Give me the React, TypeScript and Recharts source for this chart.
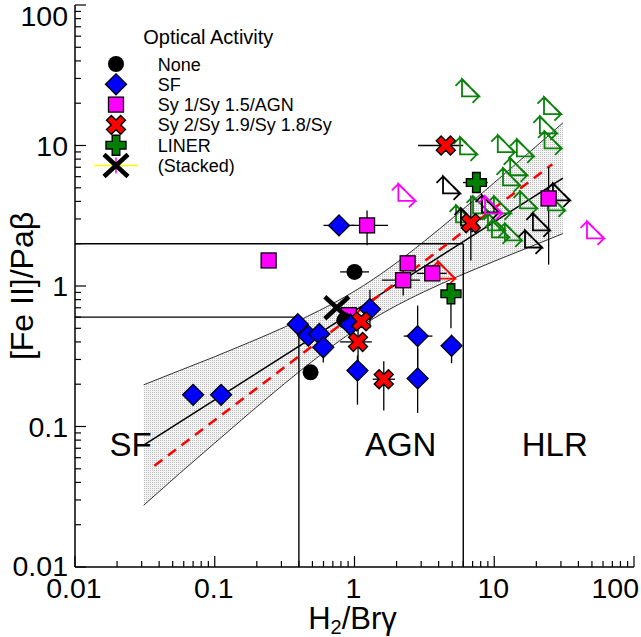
import React from 'react';
import {
  ComposedChart, Scatter, Line, Area, XAxis, YAxis, ReferenceLine, ErrorBar, Label, Legend,
} from 'recharts';

const FONT = '"Liberation Sans", Arial, Helvetica, sans-serif';

type Pt = { x: number; y: number; xe?: [number, number]; ye?: [number, number] };

// log axes: decades plus the minor steps in between
const decadeTicks = [0.01, 0.1, 1, 10, 100];
const minorSteps = [1, 2, 3, 4, 5, 6, 7, 8, 9];
const logTicks = decadeTicks.flatMap((d) => (d === 100 ? [d] : minorSteps.map((m) => +(d * m).toPrecision(3))));

// points, xe / ye = ends of the error bars
const nonePoints: Pt[] = [
  { x: 1.0, y: 1.26, xe: [0.79, 1.27] },
  { x: 0.845, y: 0.57 },
  { x: 0.485, y: 0.243 },
];

const sfPoints: Pt[] = [
  { x: 0.07, y: 0.168 },
  { x: 0.111, y: 0.168 },
  { x: 0.775, y: 2.7, xe: [0.6, 1.0] },
  { x: 0.393, y: 0.535 },
  { x: 0.467, y: 0.443 },
  { x: 0.56, y: 0.456 },
  { x: 0.598, y: 0.366, ye: [0.285, 0.4] },
  { x: 0.935, y: 0.53 },
  { x: 1.29, y: 0.685, ye: [0.5, 0.94] },
  { x: 1.05, y: 0.25, ye: [0.143, 0.32] },
  { x: 2.83, y: 0.44, xe: [2.25, 3.61], ye: [0.223, 0.726] },
  { x: 2.83, y: 0.22, ye: [0.125, 0.358] },
  { x: 4.95, y: 0.375, ye: [0.282, 0.451] },
];

const sy1Points: Pt[] = [
  { x: 0.243, y: 1.52 },
  { x: 1.23, y: 2.7, xe: [0.95, 1.74], ye: [1.95, 3.45] },
  { x: 2.4, y: 1.45 },
  { x: 2.23, y: 1.1, xe: [1.57, 2.94], ye: [0.855, 1.36] },
  { x: 3.6, y: 1.23, xe: [2.79, 4.57] },
  { x: 0.91, y: 0.62 },
  { x: 24.5, y: 4.2, ye: [1.42, 7.0] },
];

const sy2Points: Pt[] = [
  { x: 4.5, y: 10, xe: [2.85, 6.0] },
  { x: 6.8, y: 2.8, ye: [1.52, 4.4] },
  { x: 1.12, y: 0.56 },
  { x: 1.06, y: 0.4, xe: [0.79, 1.33], ye: [0.29, 0.57] },
  { x: 1.62, y: 0.217, xe: [1.35, 1.95], ye: [0.13, 0.291] },
];

const linerPoints: Pt[] = [
  { x: 7.45, y: 5.45, xe: [5.97, 8.97] },
  { x: 4.9, y: 0.88, ye: [0.5, 1.05] },
];

const stackedPoints: Pt[] = [{ x: 0.747, y: 0.7 }];

// lower limits (arrows point up and right from the value)
const greenLimits: Pt[] = [
  { x: 5.88, y: 22.4 }, { x: 5.69, y: 8.66 }, { x: 10.6, y: 8.96 }, { x: 14.5, y: 8.38 },
  { x: 22.7, y: 16.7 }, { x: 21.2, y: 12.2 }, { x: 22.9, y: 9.55 }, { x: 13.0, y: 6.14 },
  { x: 11.55, y: 5.21 }, { x: 9.02, y: 2.49 }, { x: 11.9, y: 2.11 }, { x: 5.33, y: 2.84 },
  { x: 9.64, y: 2.22 }, { x: 7.05, y: 3.29 }, { x: 24.2, y: 3.45 }, { x: 9.95, y: 3.29 },
  { x: 15.3, y: 3.57 },
];
const blackLimits: Pt[] = [
  { x: 4.3, y: 4.56 }, { x: 5.78, y: 2.7 }, { x: 8.17, y: 3.34 },
  { x: 18.9, y: 2.49 }, { x: 16.6, y: 1.88 }, { x: 26.3, y: 4.07 },
];
const magentaLimits: Pt[] = [{ x: 2.06, y: 4.03 }, { x: 8.59, y: 3.29 }, { x: 46.1, y: 2.18 }];
const redLimits: Pt[] = [{ x: 3.96, y: 1.13 }];

// fit, its confidence band and the dashed relation
const bandX = [0.031, 0.056, 0.1, 0.178, 0.316, 0.562, 1, 1.78, 3.16, 5.62, 10, 17.8, 31];
const bandLow = [0.0275, 0.0463, 0.0763, 0.125, 0.202, 0.319, 0.482, 0.682, 0.912, 1.18, 1.5, 1.89, 2.36];
const bandHigh = [0.198, 0.25, 0.314, 0.398, 0.51, 0.67, 0.918, 1.345, 2.085, 3.34, 5.44, 8.93, 14.5];
const fitX = [0.031, 31];
const fitY = [0.0738, 5.85];
const dashX = [0.037, 26];
const dashY = [0.0525, 7.35];

// dividing lines between the regions
const hLines = [
  { y: 2, x1: 0.01, x2: 6 },
  { y: 0.6, x1: 0.01, x2: 0.4 },
];
const vLines = [
  { x: 0.4, y1: 0.01, y2: 0.6 },
  { x: 6, y1: 0.01, y2: 2 },
];

const regionNames = ['SF', 'AGN', 'HLR'];
const regionX = [0.025, 2.14, 27.1];
const regionY = 0.0617;

const legendNames = ['None', 'SF', 'Sy 1/Sy 1.5/AGN', 'Sy 2/Sy 1.9/Sy 1.8/Sy', 'LINER', '(Stacked)'];

const withErr = (pts: Pt[]) =>
  pts.map((p) => ({
    x: p.x,
    y: p.y,
    ex: p.xe ? [p.x - p.xe[0], p.xe[1] - p.x] : [0, 0],
    ey: p.ye ? [p.y - p.ye[0], p.ye[1] - p.y] : [0, 0],
  }));

const bandData = bandX.map((x, i) => ({ x, band: [bandLow[i], bandHigh[i]] }));
const fitData = fitX.map((x, i) => ({ x, y: fitY[i] }));
const dashData = dashX.map((x, i) => ({ x, y: dashY[i] }));
const regionData = regionNames.map((name, i) => ({ x: regionX[i], y: regionY, name }));

// ---- marker shapes
const crossPts = (cx: number, cy: number, L: number, t: number, rot: boolean) => {
  const raw = [[-t, -L], [t, -L], [t, -t], [L, -t], [L, t], [t, t], [t, L], [-t, L], [-t, t], [-L, t], [-L, -t], [-t, -t]];
  return raw
    .map(([a, b]) => (rot ? [(a - b) / Math.SQRT2, (a + b) / Math.SQRT2] : [a, b]))
    .map(([a, b]) => `${cx + a},${cy + b}`)
    .join(' ');
};

const Dot = ({ cx, cy }: any) => <circle cx={cx} cy={cy} r={8} fill="#000" />;
const Diamond = ({ cx, cy }: any) => (
  <polygon
    points={`${cx},${cy - 10.5} ${cx + 10.5},${cy} ${cx},${cy + 10.5} ${cx - 10.5},${cy}`}
    fill="#0000ff" stroke="#000" strokeWidth={1.3}
  />
);
const Square = ({ cx, cy }: any) => (
  <rect x={cx - 7.5} y={cy - 7.5} width={15} height={15} fill="#ff00ff" stroke="#000" strokeWidth={1.3} />
);
const RedX = ({ cx, cy }: any) => (
  <polygon points={crossPts(cx, cy, 10, 3.4, true)} fill="#ff0000" stroke="#000" strokeWidth={1.4} />
);
const GreenPlus = ({ cx, cy }: any) => (
  <polygon points={crossPts(cx, cy, 10, 3.8, false)} fill="#007f00" stroke="#000" strokeWidth={1.4} />
);
const StackedX = ({ cx, cy }: any) => (
  <g stroke="#000" strokeWidth={4.5}>
    <line x1={cx - 12} y1={cy - 11} x2={cx + 12} y2={cy + 11} />
    <line x1={cx - 12} y1={cy + 11} x2={cx + 12} y2={cy - 11} />
  </g>
);
const LimitArrow = ({ cx, cy, color }: any) => {
  const L = 17;
  const h = 6.5;
  return (
    <g fill="none" stroke={color} strokeWidth={1.8}>
      <path d={`M${cx},${cy} L${cx},${cy - L} L${cx + L},${cy} Z`} />
      <path d={`M${cx - h},${cy - L + h} L${cx},${cy - L} L${cx + h},${cy - L + h}`} />
      <path d={`M${cx + L - h},${cy - h} L${cx + L},${cy} L${cx + L - h},${cy + h}`} />
    </g>
  );
};

// ---- axis ticks (inward, minor and major)
const isMajor = (v: number) => Math.abs(Math.log10(v) - Math.round(Math.log10(v))) < 1e-6;

const BottomTick = ({ x, y, payload }: any) => {
  const v = payload.value;
  const major = isMajor(v);
  return (
    <g>
      <line x1={x} y1={y} x2={x} y2={y - (major ? 11 : 6)} stroke="#000" strokeWidth={1.2} />
      {major && (
        <text x={v === 100 ? x + 5 : x - 1} y={y + 31} textAnchor={v === 100 ? 'end' : 'middle'}
          fontFamily={FONT} fontSize={28.5} fill="#000">{String(v)}</text>
      )}
    </g>
  );
};
const TopTick = ({ x, y, payload }: any) => (
  <line x1={x} y1={y} x2={x} y2={y + (isMajor(payload.value) ? 11 : 6)} stroke="#000" strokeWidth={1.2} />
);
const LeftTick = ({ x, y, payload }: any) => {
  const v = payload.value;
  const major = isMajor(v);
  let baseline = y + 10;
  if (v === 100) baseline = y + 20.5;
  if (v === 0.01) baseline = y + 8.5;
  return (
    <g>
      <line x1={x} y1={y} x2={x + (major ? 11 : 6)} y2={y} stroke="#000" strokeWidth={1.2} />
      {major && (
        <text x={x - 7} y={baseline} textAnchor="end"
          fontFamily={FONT} fontSize={28.5} fill="#000">{String(v)}</text>
      )}
    </g>
  );
};
const RightTick = ({ x, y, payload }: any) => (
  <line x1={x} y1={y} x2={x - (isMajor(payload.value) ? 11 : 6)} y2={y} stroke="#000" strokeWidth={1.2} />
);

const XTitle = ({ viewBox }: any) => (
  <text x={viewBox.x + viewBox.width / 2 - 2} y={viewBox.y + 62} textAnchor="middle" fontFamily={FONT} fontSize={31} fill="#000">
    H<tspan fontSize={20} dy={5}>2</tspan><tspan dy={-5}>/Brγ</tspan>
  </text>
);
const YTitle = () => (
  <text x={33} y={286} transform="rotate(-90, 33, 286)" textAnchor="middle" fontFamily={FONT} fontSize={32} fill="#000">
    [Fe II]/Paβ
  </text>
);

const RegionText = ({ cx, cy, payload }: any) => (
  <text x={cx} y={cy} textAnchor="middle" fontFamily={FONT} fontSize={33} fill="#000">{payload.name}</text>
);

const legendMarkers = [Dot, Diamond, Square, RedX, GreenPlus, StackedX];

const LegendBox = () => (
  <svg width={260} height={170} style={{ overflow: 'visible' }}>
    <text x={43.3} y={24} fontFamily={FONT} fontSize={20} fill="#000">Optical Activity</text>
    {legendNames.map((name, i) => {
      const M = legendMarkers[i];
      const cy = 44 + 20.3 * i;
      return (
        <g key={name}>
          {i === 5 && (
            <g>
              <line x1={-6} y1={cy} x2={38} y2={cy} stroke="#ffff00" strokeWidth={1.5} />
              <line x1={16} y1={cy - 8} x2={16} y2={cy + 8} stroke="#ff00ff" strokeWidth={1.5} />
            </g>
          )}
          <M cx={16} cy={cy} />
          <text x={57.7} y={cy + 6.5} fontFamily={FONT} fontSize={18} fill="#000">{name}</text>
        </g>
      );
    })}
  </svg>
);

const errX = <ErrorBar dataKey="ex" direction="x" width={0} stroke="#000" strokeWidth={1.3} />;
const errY = <ErrorBar dataKey="ey" direction="y" width={0} stroke="#000" strokeWidth={1.3} />;

export default function App() {
  return (
    <div style={{ position: 'absolute', left: 0, top: 0, width: 641, height: 637, background: '#fff' }}>
      <ComposedChart width={641} height={637} margin={{ top: 5, right: 7, bottom: 0, left: 0 }}>
        <defs>
          <pattern id="stipple" width="2" height="2" patternUnits="userSpaceOnUse">
            <rect width="2" height="2" fill="#f5f5f5" />
            <rect width="1" height="1" fill="#bcbcbc" />
          </pattern>
        </defs>
        <XAxis
          dataKey="x" type="number" scale="log" domain={[0.01, 100]} allowDataOverflow
          ticks={logTicks} interval={0} tickSize={0} tickMargin={0} tickLine={false}
          tick={(p: any) => <BottomTick {...p} />} axisLine={{ stroke: '#000', strokeWidth: 1.5 }} height={70}
        >
          <Label content={XTitle} />
        </XAxis>
        <XAxis
          xAxisId="top" orientation="top" type="number" scale="log" domain={[0.01, 100]} allowDataOverflow
          ticks={logTicks} interval={0} tickSize={0} tickMargin={0} tickLine={false}
          tick={(p: any) => <TopTick {...p} />} axisLine={{ stroke: '#000', strokeWidth: 1.5 }} height={0}
        />
        <YAxis
          dataKey="y" type="number" scale="log" domain={[0.01, 100]} allowDataOverflow
          ticks={logTicks} interval={0} tickSize={0} tickMargin={0} tickLine={false}
          tick={(p: any) => <LeftTick {...p} />} axisLine={{ stroke: '#000', strokeWidth: 1.5 }} width={75}
        >
          <Label content={YTitle} />
        </YAxis>
        <YAxis
          yAxisId="right" orientation="right" type="number" scale="log" domain={[0.01, 100]} allowDataOverflow
          ticks={logTicks} interval={0} tickSize={0} tickMargin={0} tickLine={false}
          tick={(p: any) => <RightTick {...p} />} axisLine={{ stroke: '#000', strokeWidth: 1.5 }} width={0}
        />

        <Area data={bandData} dataKey="band" type="monotone" fill="url(#stipple)" fillOpacity={1}
          stroke="#000" strokeWidth={0.8} isAnimationActive={false} activeDot={false} />

        {hLines.map((l, i) => (
          <ReferenceLine key={`h${i}`} segment={[{ x: l.x1, y: l.y }, { x: l.x2, y: l.y }]} stroke="#000" strokeWidth={1.4} />
        ))}
        {vLines.map((l, i) => (
          <ReferenceLine key={`v${i}`} segment={[{ x: l.x, y: l.y1 }, { x: l.x, y: l.y2 }]} stroke="#000" strokeWidth={1.4} />
        ))}

        <Line data={fitData} dataKey="y" type="linear" stroke="#000" strokeWidth={1.5} dot={false} activeDot={false} isAnimationActive={false} />
        <Line data={dashData} dataKey="y" type="linear" stroke="#ff0000" strokeWidth={2.5} strokeDasharray="10 7"
          dot={false} activeDot={false} isAnimationActive={false} />

        <Scatter data={regionData} isAnimationActive={false} shape={(p: any) => <RegionText {...p} />} />

        <Scatter data={greenLimits} isAnimationActive={false} shape={(p: any) => <LimitArrow cx={p.cx} cy={p.cy} color="#0a820a" />} />
        <Scatter data={blackLimits} isAnimationActive={false} shape={(p: any) => <LimitArrow cx={p.cx} cy={p.cy} color="#000" />} />
        <Scatter data={magentaLimits} isAnimationActive={false} shape={(p: any) => <LimitArrow cx={p.cx} cy={p.cy} color="#ff00ff" />} />
        <Scatter data={redLimits} isAnimationActive={false} shape={(p: any) => <LimitArrow cx={p.cx} cy={p.cy} color="#ff0000" />} />

        <Scatter data={withErr(sy1Points)} isAnimationActive={false} shape={(p: any) => <Square cx={p.cx} cy={p.cy} />}>
          {errX}
          {errY}
        </Scatter>
        <Scatter data={withErr(nonePoints)} isAnimationActive={false} shape={(p: any) => <Dot cx={p.cx} cy={p.cy} />}>
          {errX}
          {errY}
        </Scatter>
        <Scatter data={withErr(sfPoints)} isAnimationActive={false} shape={(p: any) => <Diamond cx={p.cx} cy={p.cy} />}>
          {errX}
          {errY}
        </Scatter>
        <Scatter data={withErr(sy2Points)} isAnimationActive={false} shape={(p: any) => <RedX cx={p.cx} cy={p.cy} />}>
          {errX}
          {errY}
        </Scatter>
        <Scatter data={withErr(linerPoints)} isAnimationActive={false} shape={(p: any) => <GreenPlus cx={p.cx} cy={p.cy} />}>
          {errX}
          {errY}
        </Scatter>
        <Scatter data={stackedPoints} isAnimationActive={false} shape={(p: any) => <StackedX cx={p.cx} cy={p.cy} />} />

        <Legend content={() => <LegendBox />} layout="horizontal" verticalAlign="middle" align="center"
          wrapperStyle={{ left: 100, top: 20, width: 260, height: 170 }} />
      </ComposedChart>
    </div>
  );
}
